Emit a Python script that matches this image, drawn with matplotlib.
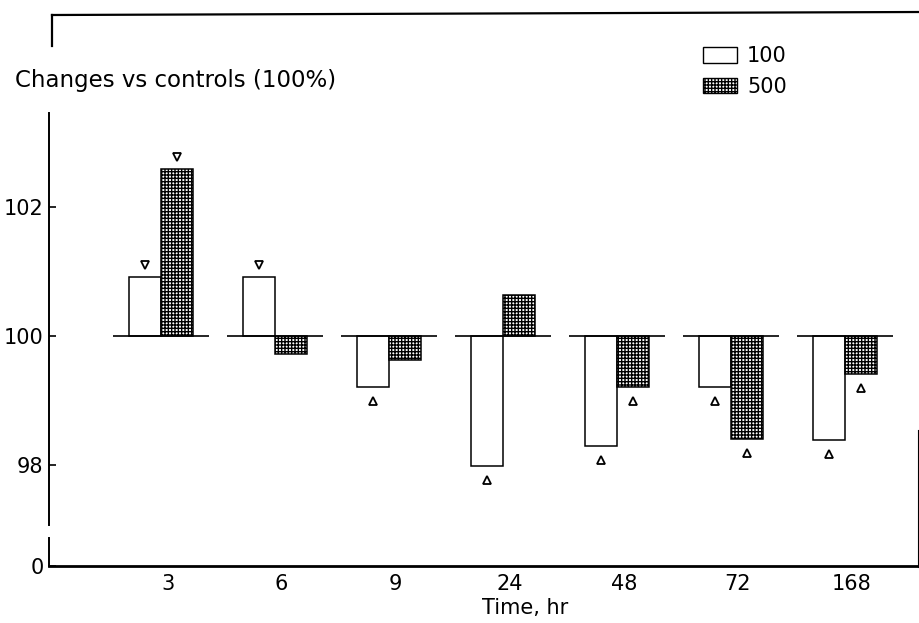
import matplotlib.pyplot as plt
import matplotlib.transforms as mtransforms
from matplotlib.lines import Line2D
from matplotlib.patches import Patch
import numpy as np

# values (percent of controls)
times = ["3", "6", "9", "24", "48", "72", "168"]
dose_100 = [100.92, 100.91, 99.21, 97.98, 98.29, 99.21, 98.39]
dose_500 = [102.59, 99.72, 99.63, 100.64, 99.21, 98.40, 99.41]
sig_100 = [True, True, True, True, True, True, True]
sig_500 = [True, False, False, False, True, True, True]
y_ticks = [98, 100, 102]
BASE = 100.0

W, H = 920, 623
plt.rcParams["hatch.linewidth"] = 1.0
plt.rcParams["font.family"] = "DejaVu Sans"


def fx(px):
    return px / W


def fy(py):
    return 1 - py / H


fig = plt.figure(figsize=(W / 100, H / 100), dpi=100)
ax = fig.add_axes([fx(49), fy(525), fx(918) - fx(49), fy(113) - fy(525)])
ax0 = fig.add_axes([fx(49), fy(566), fx(918) - fx(49), fy(538) - fy(566)], sharex=ax)

x = np.arange(len(times))
bw = 0.28
h100 = np.array(dose_100) - BASE
h500 = np.array(dose_500) - BASE

ax.bar(x - bw / 2, h100, bottom=BASE, width=bw, facecolor="white",
       edgecolor="black", linewidth=1.1, zorder=2)
ax.bar(x + bw / 2, h500, bottom=BASE, width=bw, facecolor="white",
       edgecolor="black", linewidth=1.1, hatch="+++++", zorder=2)
ax.hlines(np.full(len(x), BASE), x - 0.42, x + 0.42, color="black", linewidth=1.2, zorder=3)

# significance marks: open triangles just beyond the bar end
for xs, vals, sig in [(x - bw / 2, dose_100, sig_100), (x + bw / 2, dose_500, sig_500)]:
    for xi, v, s in zip(xs, vals, sig):
        if not s:
            continue
        up = v > BASE
        off = mtransforms.offset_copy(ax.transData, fig=fig, x=0, y=12 if up else -14, units="dots")
        ax.plot(xi, v, marker="v" if up else "^", markersize=5.5, markerfacecolor="white",
                markeredgecolor="black", markeredgewidth=1.3, transform=off, zorder=4)

ax.set_xlim(-0.98, 6.64)
ax.set_ylim(97.07, 103.457)
ax.set_yticks(y_ticks)
ax.set_yticklabels([str(t) for t in y_ticks])
for s in ["top", "right", "bottom"]:
    ax.spines[s].set_visible(False)
ax.spines["left"].set_linewidth(1.4)
ax.tick_params(axis="y", direction="in", length=5, width=1.2, labelsize=15, pad=4)
ax.tick_params(axis="x", bottom=False, labelbottom=False)

ax0.set_ylim(0, 1)
ax0.set_yticks([0])
ax0.set_yticklabels(["0"])
for s in ["top", "right"]:
    ax0.spines[s].set_visible(False)
ax0.spines["left"].set_linewidth(1.4)
ax0.spines["bottom"].set_linewidth(2.0)
ax0.tick_params(axis="y", direction="in", length=5, width=1.2, labelsize=15, pad=4)
ax0.set_xticks(x + 0.06)
ax0.set_xticklabels(times)
ax0.tick_params(axis="x", length=0, labelsize=15, pad=6)
ax0.set_xlabel("Time, hr", fontsize=15, labelpad=0)
ax0.xaxis.set_label_coords(0.548, -1.15)

fig.text(fx(15), fy(81), "Changes vs controls (100%)", fontsize=16.5, ha="left", va="center")

handles = [Patch(facecolor="white", edgecolor="black", linewidth=1.0),
           Patch(facecolor="white", edgecolor="black", linewidth=1.0, hatch="+++++")]
fig.legend(handles, ["100", "500"], loc="upper left", bbox_to_anchor=(fx(693), fy(36)),
           frameon=False, fontsize=15, handlelength=1.6, handleheight=0.77,
           labelspacing=0.5, handletextpad=0.5, borderpad=0)

# outer frame remnants of the original figure
fig.add_artist(Line2D([fx(52), fx(920)], [fy(15), fy(12)], color="black", linewidth=1.6))
fig.add_artist(Line2D([fx(52), fx(52)], [fy(15), fy(46)], color="black", linewidth=1.6))
fig.add_artist(Line2D([fx(918.5), fx(918.5)], [fy(430), fy(567)], color="black", linewidth=0.8))

fig.savefig("out.png", dpi=100)
